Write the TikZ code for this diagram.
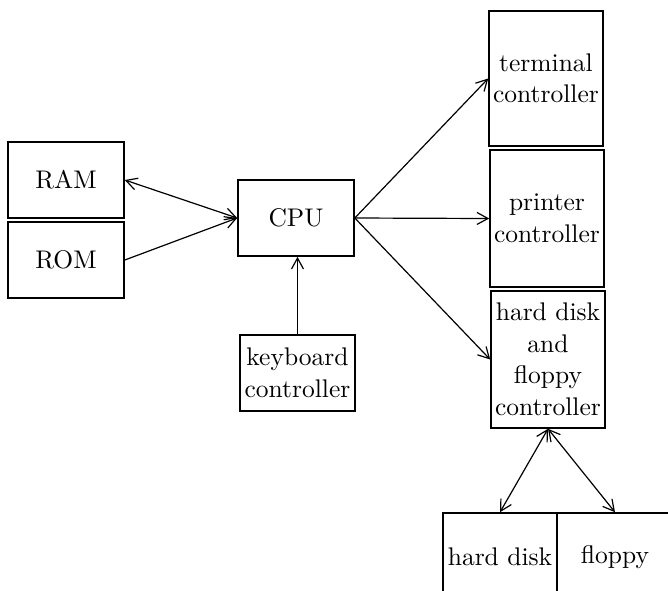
\documentclass[tikz,border=0pt]{standalone}
\usepackage{fontspec}
\setmainfont{lmroman10-regular}[Extension=.otf]
\usetikzlibrary{arrows.meta}
\begin{document}
\begin{tikzpicture}[x=1pt,y=-1pt,
  box/.style={draw,line width=1.6pt,inner sep=0pt,align=center,
    font=\fontsize{25.5}{31.5}\selectfont},
  conn/.style={line width=1.2pt,{Straight Barb[length=11pt,width=12pt]}-{Straight Barb[length=11pt,width=12pt]}},
  one/.style={line width=1.2pt,-{Straight Barb[length=11pt,width=12pt]}}]
\useasboundingbox (0,0) rectangle (668,590);
\clip (0,0) rectangle (668,590);
\node[box,minimum width=116pt,minimum height=76pt] (ram) at (66,180) {RAM};
\node[box,minimum width=116pt,minimum height=76pt] (rom) at (66,260) {ROM};
\node[box,minimum width=116pt,minimum height=76pt] (cpu) at (296,218) {CPU};
\node[box,minimum width=115pt,minimum height=76pt] (kbd) at (297.5,373) {keyboard\\controller};
\node[box,minimum width=114pt,minimum height=135pt] (term) at (546,78.5) {terminal\\controller};
\node[box,minimum width=114pt,minimum height=137pt] (prn) at (547,218.5) {printer\\controller};
\node[box,minimum width=114pt,minimum height=137pt] (hdfc) at (548,359.5) {hard disk\\and\\floppy\\controller};
\node[box,minimum width=114pt,minimum height=88pt] (hd) at (500,557) {hard disk};
\node[box,minimum width=116pt,minimum height=88pt] (fl) at (615,557) {floppy};
\draw[conn] (ram.east) -- (cpu.west);
\draw[one] (rom.east) -- (cpu.west);
\draw[one] (kbd.north) -- (kbd.north |- cpu.south);
\draw[one] (cpu.east) -- (term.west);
\draw[one] (cpu.east) -- (prn.west);
\draw[one] (cpu.east) -- (hdfc.west);
\draw[conn] (hdfc.south) -- (hd.north);
\draw[conn] (hdfc.south) -- (fl.north);
\end{tikzpicture}
\end{document}
